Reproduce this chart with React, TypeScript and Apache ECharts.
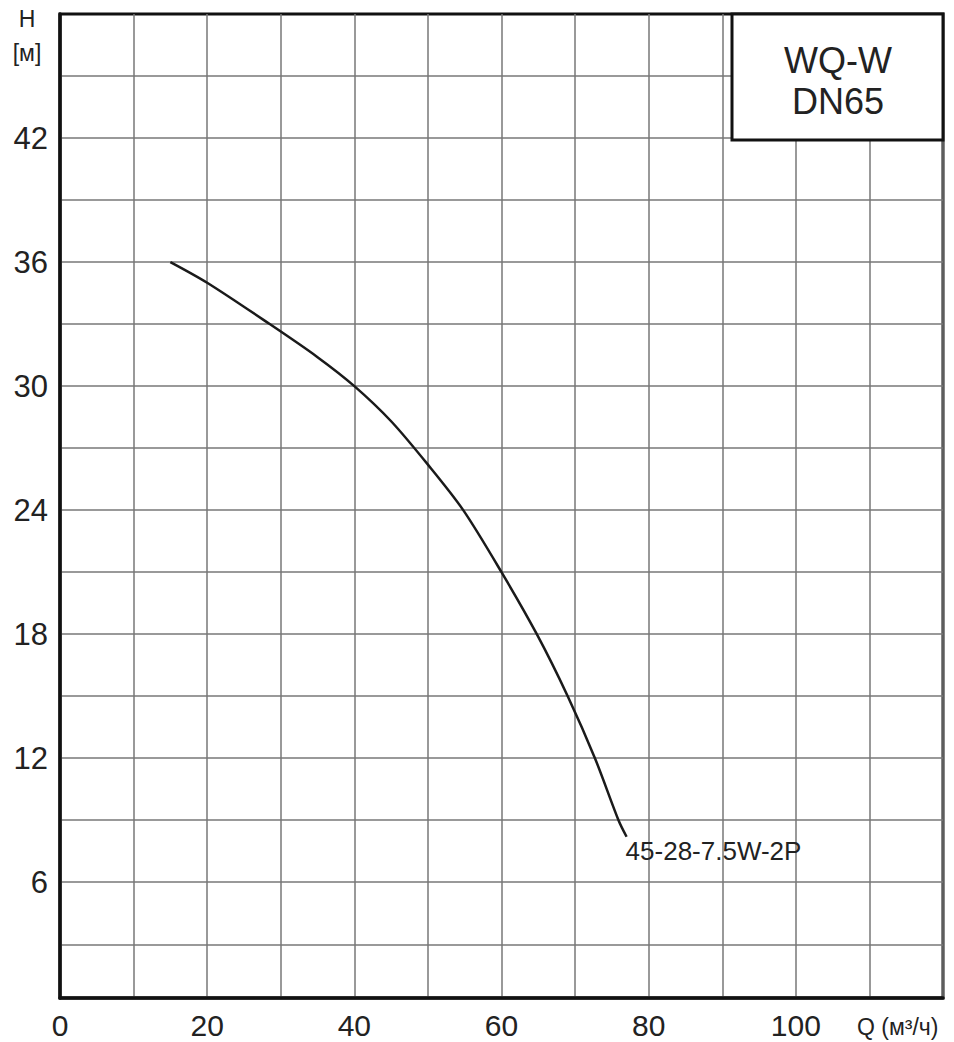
import React, { useEffect, useRef } from "react";
import * as echarts from "echarts";

// Data
const curveName = "45-28-7.5W-2P";
const flowQ = [15, 20, 28.5, 35, 40, 45, 50, 54.8, 60, 64.8, 69, 72.7, 75.9, 77];
const headH = [36, 35.0, 33, 31.4, 30, 28.3, 26.2, 24, 21, 18, 15, 12, 9, 8.2];
const yGridValues = [3, 6, 9, 12, 15, 18, 21, 24, 27, 30, 33, 36, 39, 42, 45];
const yLabelValues = [6, 12, 18, 24, 30, 36, 42];
const xLabelValues = [0, 20, 40, 60, 80, 100];
const titleLines = ["WQ-W", "DN65"];
const yUnitLines = ["H", "[м]"];
const xAxisTitle = "Q (м³/ч)";

const FONT = "Liberation Sans, Arial, sans-serif";
const TEXT = "#222";

export default function App() {
  const ref = useRef<HTMLDivElement>(null);
  useEffect(() => {
    if (!ref.current) return;
    const chart = echarts.init(ref.current, null, { renderer: "svg" });
    chart.setOption({
      animation: false,
      backgroundColor: "#fff",
      grid: {
        left: 60,
        right: 11,
        top: 14,
        bottom: 44,
        show: true,
        borderColor: "#111",
        borderWidth: 3,
        backgroundColor: "transparent",
      },
      xAxis: {
        type: "value",
        min: 0,
        max: 120,
        interval: 10,
        axisLine: { show: true, onZero: false, lineStyle: { color: "#111", width: 3.5 } },
        axisTick: { show: false },
        splitLine: { show: true, lineStyle: { color: "#777", width: 1.5 } },
        axisLabel: {
          margin: 14,
          fontSize: 30,
          lineHeight: 26,
          fontFamily: FONT,
          color: TEXT,
          formatter: (v: number) => (xLabelValues.includes(v) ? String(v) : ""),
        },
      },
      yAxis: {
        type: "value",
        min: 0.4,
        max: 48,
        axisLine: { show: true, lineStyle: { color: "#111", width: 3.5 } },
        axisTick: { show: true, length: 0, customValues: yGridValues },
        splitLine: { show: true, lineStyle: { color: "#777", width: 1.5 } },
        axisLabel: {
          customValues: yLabelValues,
          margin: 12,
          fontSize: 31,
          fontFamily: FONT,
          color: TEXT,
        },
      },
      graphic: [
        {
          type: "rect",
          shape: { x: 732, y: 14, width: 211, height: 126 },
          style: { fill: "#fff", stroke: "#111", lineWidth: 3 },
          z: 100,
        },
        {
          type: "text",
          x: 838,
          y: 60,
          style: {
            text: titleLines[0],
            fontSize: 36,
            fontFamily: FONT,
            fill: TEXT,
            align: "center",
            verticalAlign: "middle",
          },
          z: 101,
        },
        {
          type: "text",
          x: 838,
          y: 101,
          style: {
            text: titleLines[1],
            fontSize: 36,
            fontFamily: FONT,
            fill: TEXT,
            align: "center",
            verticalAlign: "middle",
          },
          z: 101,
        },
        {
          type: "text",
          x: 27,
          y: 19,
          style: {
            text: yUnitLines[0],
            fontSize: 23,
            fontFamily: FONT,
            fill: TEXT,
            align: "center",
            verticalAlign: "middle",
          },
        },
        {
          type: "text",
          x: 27,
          y: 53,
          style: {
            text: yUnitLines[1],
            fontSize: 23,
            fontFamily: FONT,
            fill: TEXT,
            align: "center",
            verticalAlign: "middle",
          },
        },
        {
          type: "text",
          x: 857,
          y: 1027,
          style: {
            text: xAxisTitle,
            fontSize: 23,
            fontFamily: FONT,
            fill: TEXT,
            align: "left",
            verticalAlign: "middle",
          },
        },
      ],
      series: [
        {
          type: "line",
          name: curveName,
          data: flowQ.map((q, i) => [q, headH[i]]),
          smooth: 0.3,
          showSymbol: false,
          symbol: "none",
          lineStyle: { color: "#1a1a1a", width: 2.5 },
          endLabel: {
            show: true,
            formatter: curveName,
            fontSize: 26,
            fontFamily: FONT,
            color: TEXT,
            distance: 0,
            offset: [-1, 14],
          },
        },
      ],
    });
    return () => chart.dispose();
  }, []);
  return (
    <div
      ref={ref}
      style={{ position: "fixed", left: 0, top: 0, width: 954, height: 1042 }}
    />
  );
}
